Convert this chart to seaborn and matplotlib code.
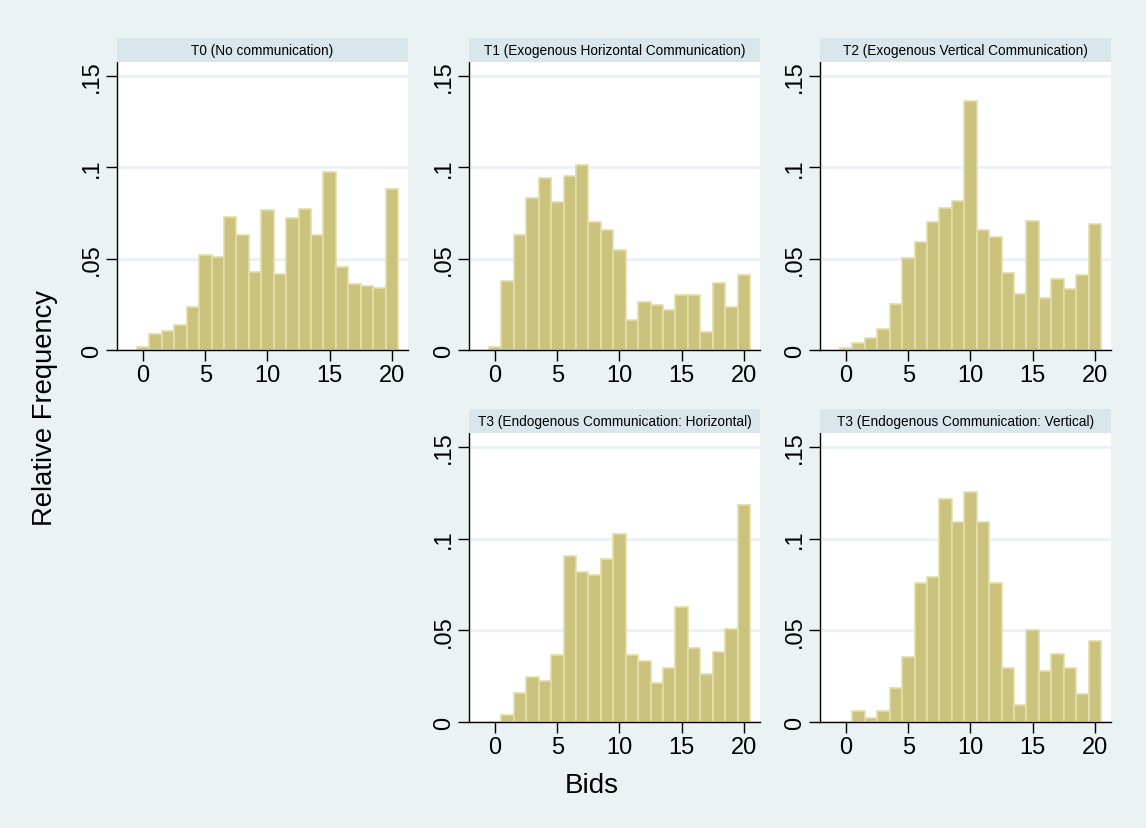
import numpy as np
import pandas as pd
import matplotlib
matplotlib.use('Agg')
import matplotlib.pyplot as plt
import seaborn as sns

# Bid values (0..20) and relative frequencies
bids = list(range(21))

t0 = [0.0015, 0.0089, 0.0104, 0.0138, 0.0235, 0.0517, 0.0508, 0.0729, 0.0628, 0.0426,
      0.0765, 0.0413, 0.0723, 0.0769, 0.0628, 0.0976, 0.0454, 0.0361, 0.0348, 0.0337, 0.0880]
t1 = [0.0015, 0.0377, 0.0627, 0.0832, 0.0938, 0.0807, 0.0949, 0.1011, 0.0698, 0.0654,
      0.0546, 0.0162, 0.0260, 0.0244, 0.0217, 0.0299, 0.0299, 0.0100, 0.0368, 0.0233, 0.0412]
t2 = [0.0013, 0.0038, 0.0064, 0.0117, 0.0251, 0.0501, 0.0592, 0.0698, 0.0778, 0.0814,
      0.1359, 0.0654, 0.0617, 0.0421, 0.0304, 0.0707, 0.0286, 0.0386, 0.0332, 0.0412, 0.0690]
t3h = [0.0, 0.0036, 0.0157, 0.0245, 0.0226, 0.0367, 0.0905, 0.0819, 0.0801, 0.0889,
       0.1027, 0.0367, 0.0332, 0.0212, 0.0297, 0.0628, 0.0401, 0.0263, 0.0383, 0.0507, 0.1182]
t3v = [0.0, 0.0058, 0.0022, 0.0058, 0.0186, 0.0352, 0.0755, 0.0792, 0.1217, 0.1088,
       0.1252, 0.1088, 0.0755, 0.0296, 0.0095, 0.0500, 0.0277, 0.0370, 0.0296, 0.0151, 0.0443]

titles = ["T0 (No communication)",
          "T1 (Exogenous Horizontal Communication)",
          "T2 (Exogenous Vertical Communication)",
          "T3 (Endogenous Communication: Horizontal)",
          "T3 (Endogenous Communication: Vertical)"]
series = [t0, t1, t2, t3h, t3v]

bg = '#EAF2F3'
strip = '#D9E6EB'
bar_fill = '#CBC27E'
bar_edge = '#E2DDAA'

sns.set_style('white')
plt.rcParams['font.family'] = ['Liberation Sans', 'DejaVu Sans']
plt.rcParams['text.color'] = 'black'
plt.rcParams['xtick.color'] = 'black'
plt.rcParams['ytick.color'] = 'black'

fig = plt.figure(figsize=(11.46, 8.29), dpi=100)
fig.patch.set_facecolor(bg)

W, H = 1146, 829
lefts = [117, 469, 820]
width = 291
# (left, top, bottom) in pixels for each panel
slots = [(lefts[0], 63, 351), (lefts[1], 63, 351), (lefts[2], 63, 351),
         (lefts[1], 434, 723), (lefts[2], 434, 723)]
strip_h = 24

for (lx, ty, by), title, vals in zip(slots, titles, series):
    ax = fig.add_axes([lx / W, 1 - by / H, width / W, (by - ty) / H])
    df = pd.DataFrame({'bid': bids, 'freq': vals})
    sns.histplot(data=df, x='bid', weights='freq', discrete=True,
                 color=bar_fill, edgecolor=bar_edge, linewidth=1.2, alpha=1, ax=ax)
    ax.set_xlim(-2.1, 21.3)
    ax.set_ylim(0, 0.1575)
    ax.set_xticks([0, 5, 10, 15, 20])
    ax.set_yticks([0, 0.05, 0.1, 0.15])
    ax.set_yticklabels(['0', '.05', '.1', '.15'], rotation=90, va='center')
    ax.tick_params(axis='both', labelsize=17, length=8, width=1, direction='out',
                   bottom=True, left=True, color='black', labelcolor='black', pad=2)
    ax.set_facecolor('white')
    ax.yaxis.grid(True, color=bg, linewidth=2)
    ax.set_axisbelow(True)
    for s in ['top', 'right']:
        ax.spines[s].set_visible(False)
    for s in ['left', 'bottom']:
        ax.spines[s].set_color('black')
        ax.spines[s].set_linewidth(1)
    ax.set_xlabel('')
    ax.set_ylabel('')
    # strip header
    sax = fig.add_axes([lx / W, 1 - ty / H, width / W, strip_h / H])
    sax.set_facecolor(strip)
    sax.set_xticks([])
    sax.set_yticks([])
    for s in sax.spines.values():
        s.set_visible(False)
    sax.text(0.5, 0.5, title, ha='center', va='center', fontsize=9.8,
             color='black', transform=sax.transAxes)

fig.text(45 / W, 1 - 408 / H, 'Relative Frequency', rotation=90, ha='center',
         va='center', fontsize=19.7, color='black')
fig.text(592 / W, 1 - 786 / H, 'Bids', ha='center', va='center', fontsize=20,
         color='black')

fig.savefig('out.png', dpi=100, facecolor=bg)
